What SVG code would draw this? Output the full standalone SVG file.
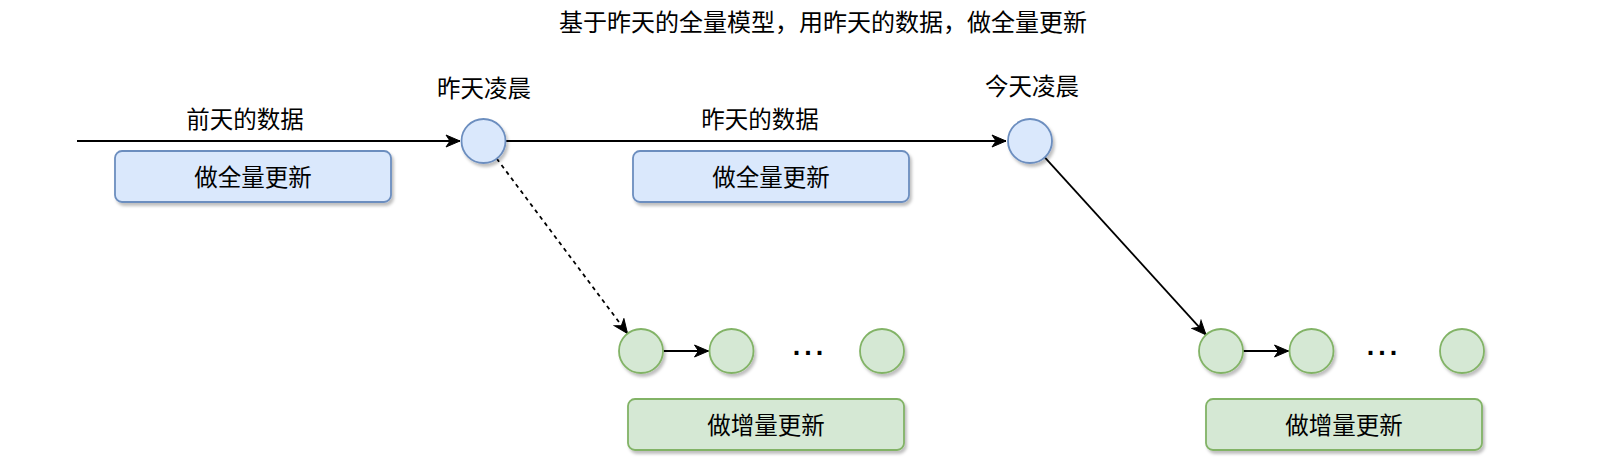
<svg xmlns="http://www.w3.org/2000/svg" width="1618" height="466" viewBox="0 0 1618 466">
<style>
text{font-family:"Noto Sans CJK SC","Noto Sans",sans-serif;font-size:23.5px;fill:#000;text-anchor:middle}
.title{font-size:24px}
.blue{fill:#dae8fc;stroke:#6c8ebf;stroke-width:1.8}
.green{fill:#d5e8d4;stroke:#82b366;stroke-width:1.8}
.sh{filter:url(#shadow)}
.edge{fill:none;stroke:#000;stroke-width:1.8}
.dots{font-family:"Liberation Sans",Arial,sans-serif;font-size:27px;font-weight:bold;letter-spacing:4px}
</style>
<defs>
<filter id="shadow" x="-30%" y="-30%" width="160%" height="160%">
<feDropShadow dx="2" dy="3" stdDeviation="1.8" flood-color="#000" flood-opacity="0.25"/>
</filter>
<marker id="arr" markerUnits="userSpaceOnUse" markerWidth="16" markerHeight="14" refX="15" refY="7" orient="auto">
<path d="M1,1 L15,7 L1,13 L5,7 z" fill="#000" stroke="#000" stroke-width="1"/>
</marker>
</defs>
<text class="title" x="823" y="31">基于昨天的全量模型，用昨天的数据，做全量更新</text>
<g id="connectors">
<line class="edge" x1="77" y1="141" x2="460" y2="141" marker-end="url(#arr)"/>
<line class="edge" x1="506" y1="141" x2="1006" y2="141" marker-end="url(#arr)"/>
<line class="edge" x1="496.7" y1="158.6" x2="627.5" y2="333.4" stroke-dasharray="4 4" marker-end="url(#arr)"/>
<line class="edge" x1="1044.8" y1="157.3" x2="1206" y2="334.7" marker-end="url(#arr)"/>
<line class="edge" x1="663.5" y1="351" x2="708.5" y2="351" marker-end="url(#arr)"/>
<line class="edge" x1="1243" y1="351" x2="1288.5" y2="351" marker-end="url(#arr)"/>
</g>
<g id="label-qiantian"><text x="245" y="128">前天的数据</text></g>
<g id="label-zuotian"><text x="760" y="128">昨天的数据</text></g>
<g id="node-zuotian-lingchen">
<text x="484" y="97">昨天凌晨</text>
<circle class="blue sh" cx="483.5" cy="141" r="22"/>
</g>
<g id="node-jintian-lingchen">
<text x="1032" y="95">今天凌晨</text>
<circle class="blue sh" cx="1030" cy="141" r="22"/>
</g>
<g id="box-full-1">
<rect class="blue sh" x="115" y="151" width="276" height="51" rx="7"/>
<text x="253" y="186">做全量更新</text>
</g>
<g id="box-full-2">
<rect class="blue sh" x="633" y="151" width="276" height="51" rx="7"/>
<text x="771" y="186">做全量更新</text>
</g>
<g id="inc-row-1">
<circle class="green sh" cx="641" cy="351" r="22"/>
<circle class="green sh" cx="731.5" cy="351" r="22"/>
<text class="dots" x="810" y="355">...</text>
<circle class="green sh" cx="882" cy="351" r="22"/>
</g>
<g id="box-inc-1">
<rect class="green sh" x="628" y="399" width="276" height="51" rx="7"/>
<text x="766" y="434">做增量更新</text>
</g>
<g id="inc-row-2">
<circle class="green sh" cx="1221" cy="351" r="22"/>
<circle class="green sh" cx="1311.5" cy="351" r="22"/>
<text class="dots" x="1384" y="355">...</text>
<circle class="green sh" cx="1462" cy="351" r="22"/>
</g>
<g id="box-inc-2">
<rect class="green sh" x="1206" y="399" width="276" height="51" rx="7"/>
<text x="1344" y="434">做增量更新</text>
</g>
</svg>
